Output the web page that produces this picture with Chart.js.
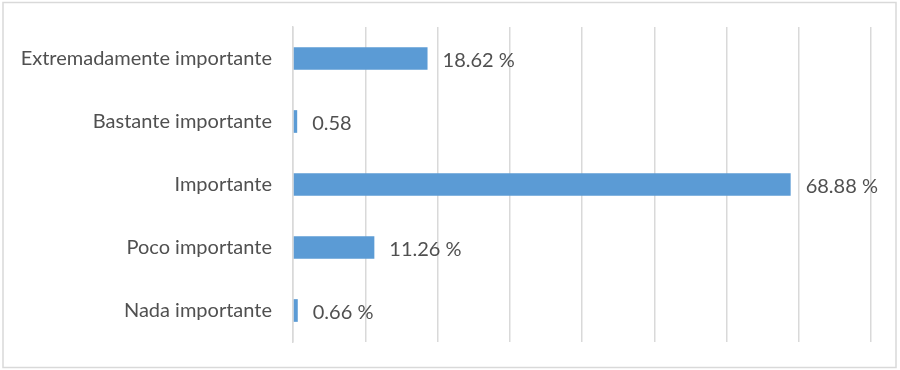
<!DOCTYPE html>
<html>
<head>
<meta charset="utf-8">
<script src="https://cdn.jsdelivr.net/npm/chart.js@4"></script>
<style>
  body { margin: 0; background: #fff; }
  #wrap { width: 900px; height: 370px; }
</style>
</head>
<body>
<div id="wrap"><canvas id="importance-chart" width="900" height="370"></canvas></div>
<script>
// categories, top to bottom as in the picture
const categories = ['Extremadamente importante', 'Bastante importante', 'Importante', 'Poco importante', 'Nada importante']
const percentages = [18.62, 0.58, 68.88, 11.26, 0.66]
// text printed next to each bar (the second one has no % sign in the original)
const valueLabels = ['18.62 %', '0.58', '68.88 %', '11.26 %', '0.66 %']

const gridGrey = '#d9d9d9'
const textGrey = '#505050'

// border around the whole chart
const frameBorder = {
    id: 'frameBorder',
    beforeDraw(chart) {
        const ctx = chart.ctx
        ctx.save()
        ctx.strokeStyle = gridGrey
        ctx.lineWidth = 1.5
        ctx.strokeRect(3, 2.5, 893, 365)
        ctx.restore()
    }
}

// value text after the end of each bar
const barValues = {
    id: 'barValues',
    afterDatasetsDraw(chart) {
        const ctx = chart.ctx
        const bars = chart.getDatasetMeta(0).data
        ctx.save()
        ctx.font = '20px Lato'
        ctx.fillStyle = textGrey
        ctx.textBaseline = 'middle'
        bars.forEach((bar, i) => {
            ctx.fillText(valueLabels[i], bar.x + 15, bar.y + 2)
        })
        ctx.restore()
    }
}

new Chart(document.getElementById('importance-chart'), {
    type: 'bar',
    data: {
        labels: categories,
        datasets: [{
            data: percentages,
            backgroundColor: '#5b9bd5',
            barPercentage: 0.72,
            categoryPercentage: 0.5
        }]
    },
    options: {
        indexAxis: 'y',
        responsive: false,
        animation: false,
        layout: { padding: { top: 27, bottom: 28, right: 29, left: 0 } },
        plugins: {
            legend: { display: false },
            tooltip: { enabled: false }
        },
        scales: {
            x: {
                min: 0,
                max: 80,
                ticks: { display: false, stepSize: 10 },
                grid: { color: gridGrey, lineWidth: 1.5, drawTicks: false },
                border: { display: false },
                afterFit: scale => { scale.height = 0 }
            },
            y: {
                ticks: { color: textGrey, font: { family: 'Lato', size: 20 }, padding: 21 },
                grid: { display: false, drawTicks: false },
                border: { color: gridGrey, width: 1.5 },
                afterFit: scale => {
                    scale.width = 293
                    // labels sit beside the bars, they need no extra room above/below
                    scale.paddingTop = 0
                    scale.paddingBottom = 0
                }
            }
        }
    },
    plugins: [frameBorder, barValues]
})
</script>
</body>
</html>
